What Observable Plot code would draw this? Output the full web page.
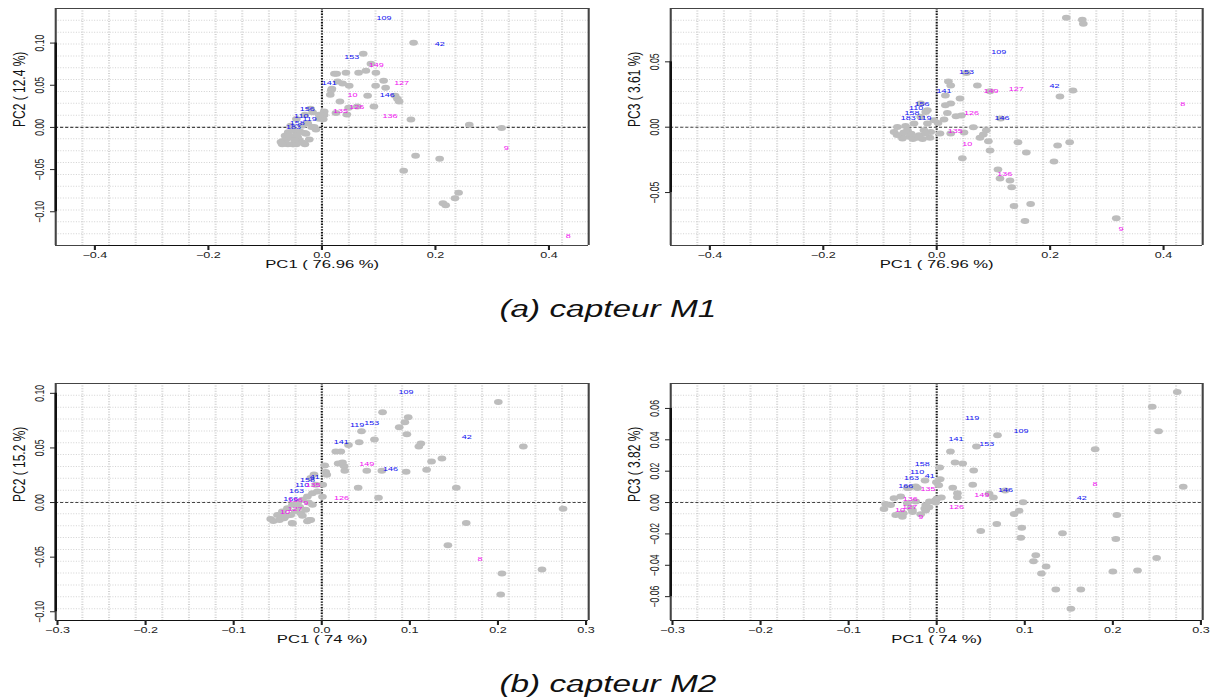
<!DOCTYPE html>
<html><head><meta charset="utf-8">
<script src="https://cdn.jsdelivr.net/npm/d3@7"></script>
<script src="https://cdn.jsdelivr.net/npm/@observablehq/plot@0.6"></script>
<style>
html,body{margin:0;padding:0;background:#fff}
#wrap{position:relative;width:1217px;height:699px;overflow:hidden;background:#fff}
.panel{position:absolute;transform-origin:0 0}
.cap{position:absolute;left:0;width:1217px;text-align:center;transform:scaleX(1.45);transform-origin:610px 0;font-family:"Liberation Sans",Arial,sans-serif;font-style:italic;font-size:23px;color:#111;line-height:26px}
</style></head>
<body><div id="wrap">
<div class="cap" style="top:296px">(a) capteur M1</div>
<div class="cap" style="top:671px">(b) capteur M2</div>
</div>
<script>
// ---------- sensor M1 : PC1 vs PC2 (unlabelled individuals) ----------
const m1_pc12_x = [0.1615,0.0728,0.0863,0.0220,0.0260,0.0423,0.0646,0.0775,0.0951,0.0276,0.0364,0.0481,0.1087,0.0946,0.1122,0.0176,0.0165,0.0147,0.0805,0.1290,0.1330,0.1360,0.0317,0.0623,0.0916,0.0470,0.0247,0.0440,0.0040,0.0040,0.0023,0.1568,0.2596,0.3166,0.1650,0.2074,0.1440,0.2408,0.2344,0.2132,0.2180,
 -0.0182,-0.0106,-0.0300,-0.0223,-0.0300,-0.0500,-0.0690,-0.0516,-0.0428,-0.0280,-0.0594,-0.0136,-0.0164,-0.0048,-0.0722,-0.0630,-0.0550,-0.0450,-0.0400,-0.0350,-0.0600,-0.0650,-0.0450,-0.0380,-0.0500,-0.0550,-0.0350,-0.0250,-0.0300,-0.0200,-0.0450,-0.0650,-0.0700,-0.0580,-0.0480,-0.0050];
const m1_pc12_y = [0.1003,0.0873,0.0754,0.0636,0.0636,0.0648,0.0648,0.0672,0.0648,0.0545,0.0521,0.0494,0.0553,0.0494,0.0470,0.0458,0.0440,0.0387,0.0375,0.0375,0.0340,0.0308,0.0308,0.0249,0.0249,0.0233,0.0170,0.0154,0.0190,0.0146,0.0098,0.0095,0.0032,-0.0008,-0.0336,-0.0371,-0.0513,-0.0774,-0.0841,-0.0900,-0.0924,
 0.0004,-0.0024,-0.0067,-0.0142,-0.0200,-0.0200,-0.0162,-0.0201,-0.0115,-0.0075,-0.0056,0.0004,0.0181,0.0103,-0.0174,-0.0140,-0.0120,-0.0080,-0.0150,-0.0180,-0.0200,-0.0190,-0.0200,-0.0050,-0.0030,0.0020,0.0020,0.0050,0.0150,0.0220,0.0100,-0.0100,-0.0200,-0.0100,-0.0150,0.0150];

// ---------- sensor M1 : PC1 vs PC3 ----------
const m1_pc13_x = [0.2285,0.2567,0.2585,0.0523,0.0206,0.0247,0.0717,0.0940,0.2402,0.2173,0.0153,0.0411,0.0247,0.0153,0.0188,0.0340,0.0435,0.0129,0.0023,0.1128,0.0646,0.0875,0.0822,0.0763,0.0481,0.0247,0.0058,0.0911,0.1433,0.2132,0.2344,0.0940,0.1580,0.0452,0.2068,0.1080,0.1116,0.1292,0.1322,0.1656,0.1363,0.1557,0.3166,
 -0.0752,-0.0693,-0.0634,-0.0516,-0.0400,-0.0282,-0.0282,-0.0164,-0.0224,-0.0106,-0.0164,-0.0048,-0.0312,-0.0488,-0.0604,-0.0194,-0.0450,-0.0550,-0.0350,-0.0250,-0.0700,-0.0580,-0.0420,-0.0120,-0.0310,-0.0194];
const m1_pc13_y = [0.0837,0.0822,0.0792,0.0415,0.0349,0.0318,0.0318,0.0275,0.0280,0.0234,0.0242,0.0219,0.0181,0.0168,0.0109,0.0084,0.0089,0.0059,0.0033,0.0066,0.0000,-0.0023,-0.0056,-0.0081,-0.0041,-0.0048,-0.0048,-0.0107,-0.0115,-0.0140,-0.0115,-0.0178,-0.0193,-0.0237,-0.0262,-0.0323,-0.0392,-0.0407,-0.0460,-0.0588,-0.0603,-0.0718,-0.0697,
 -0.0036,0.0002,-0.0061,-0.0023,0.0028,0.0079,0.0181,0.0130,-0.0023,-0.0036,0.0028,0.0053,-0.0061,-0.0074,-0.0086,0.0117,-0.0050,0.0010,-0.0080,-0.0090,-0.0060,-0.0040,-0.0090,-0.0080,-0.0074,-0.0048];

// ---------- sensor M1 : labelled individuals ----------
const m1_lab_name  = ["109","42","153","149","127","141","10","146","135","126","136","9","8","156","110","119","158","183"];
const m1_lab_group = ["b","b","b","m","m","b","m","b","m","m","m","m","m","b","b","b","b","b"];
const m1_lab_pc1   = [0.1095,0.2075,0.0526,0.0958,0.1404,0.0129,0.0540,0.1150,0.0326,0.0614,0.1200,0.3248,0.4340,-0.0258,-0.0364,-0.0218,-0.0435,-0.0503];
const m1_lab_pc2   = [0.1295,0.0987,0.0829,0.0735,0.0525,0.0525,0.0390,0.0379,0.0190,0.0237,0.0130,-0.0240,-0.1288,0.0221,0.0130,0.0095,0.0056,0.0000];
const m1_lab_pc3   = [0.0573,0.0313,0.0420,0.0277,0.0290,0.0277,-0.0130,0.0069,-0.0031,0.0109,-0.0356,-0.0779,0.0178,0.0178,0.0145,0.0069,0.0105,0.0069];

// ---------- sensor M2 : PC1 vs PC2 ----------
const m2_pc12_x = [0.2004,0.0690,0.0981,0.0943,0.0879,0.0451,0.0966,0.0598,0.0424,0.0303,0.1125,0.1102,0.2288,0.0159,0.0216,0.1364,0.1246,0.0186,0.0235,0.0254,0.0261,0.0034,0.0045,0.0057,0.0511,0.0682,0.0958,0.1190,0.0413,0.1527,0.0644,0.0011,0.0008,0.2739,0.1640,0.1432,0.2045,0.2500,0.2031,
 -0.0580,-0.0503,-0.0447,-0.0390,-0.0333,-0.0276,-0.0219,-0.0163,-0.0106,-0.0068,-0.0088,-0.0125,-0.0333,-0.0144,-0.0428,-0.0352,-0.0239,-0.0182,-0.0106,-0.0163,-0.0125,-0.0337,-0.0220,-0.0550,-0.0480,-0.0400,-0.0300,-0.0250,-0.0150,-0.0050,-0.0450];
const m2_pc12_y = [0.0920,0.0827,0.0781,0.0735,0.0689,0.0652,0.0625,0.0578,0.0551,0.0526,0.0541,0.0514,0.0514,0.0468,0.0468,0.0403,0.0375,0.0357,0.0366,0.0332,0.0292,0.0339,0.0280,0.0255,0.0292,0.0292,0.0283,0.0301,0.0135,0.0135,0.0043,0.0163,0.0053,-0.0058,-0.0187,-0.0390,-0.0649,-0.0612,-0.0842,
 -0.0150,-0.0113,-0.0083,-0.0053,-0.0021,-0.0006,0.0025,0.0055,0.0086,0.0163,0.0256,0.0224,-0.0191,-0.0160,-0.0145,-0.0113,-0.0099,-0.0067,-0.0021,-0.0172,-0.0160,-0.0187,-0.0120,-0.0170,-0.0160,-0.0120,-0.0080,-0.0040,0.0000,0.0100,-0.0130];

// ---------- sensor M2 : PC1 vs PC3 ----------
const m2_pc13_x = [0.2731,0.2447,0.2519,0.0690,0.0451,0.0156,0.1799,0.0208,0.0295,0.0034,0.0420,-0.0133,0.0038,-0.0004,0.0409,0.0182,0.0235,0.0235,0.2799,0.0595,0.0644,0.0777,0.0981,0.0053,-0.0015,-0.0083,0.0936,0.0879,0.2045,0.0682,0.0966,0.0500,0.1428,0.0955,0.2034,0.1125,0.1099,0.2497,0.1242,0.1189,0.2000,0.2280,0.1352,0.1636,0.1523,
 -0.0379,-0.0276,-0.0136,-0.0125,-0.0182,-0.0239,-0.0333,-0.0599,-0.0523,-0.0485,-0.0409,-0.0390,-0.0295,-0.0333,-0.0239,-0.0219,-0.0315,-0.0580,-0.0466,-0.0390,-0.0275,-0.0125,-0.0087,-0.0011,0.0004,0.0023];
const m2_pc13_y = [0.0705,0.0611,0.0455,0.0429,0.0358,0.0326,0.0339,0.0255,0.0249,0.0223,0.0204,0.0141,0.0148,0.0129,0.0114,0.0094,0.0060,0.0034,0.0101,0.0056,0.0032,0.0077,0.0002,0.0032,0.0015,0.0006,-0.0053,-0.0073,-0.0079,-0.0137,-0.0161,-0.0182,-0.0195,-0.0225,-0.0232,-0.0336,-0.0375,-0.0354,-0.0407,-0.0452,-0.0439,-0.0433,-0.0555,-0.0555,-0.0677,
 -0.0069,-0.0047,-0.0038,-0.0015,-0.0075,0.0103,0.0092,-0.0041,-0.0015,0.0028,0.0039,-0.0069,-0.0037,-0.0005,0.0006,0.0092,0.0092,-0.0010,-0.0080,-0.0090,-0.0060,-0.0050,-0.0030,0.0000,0.0025,0.0110];

// ---------- sensor M2 : labelled individuals ----------
const m2_lab_name  = ["109","119","153","42","141","149","146","126","8","41","158","110","135","163","166","136","9","10","127"];
const m2_lab_group = ["b","b","b","b","b","m","b","m","m","b","b","b","m","b","b","m","m","m","m"];
const m2_lab_pc1   = [0.0957,0.0402,0.0568,0.1646,0.0220,0.0510,0.0780,0.0225,0.1797,-0.0080,-0.0163,-0.0223,-0.0100,-0.0286,-0.0352,-0.0300,-0.0182,-0.0418,-0.0305];
const m2_lab_pc2   = [0.1008,0.0713,0.0729,0.0600,0.0553,0.0351,0.0304,0.0040,-0.0514,0.0237,0.0209,0.0160,0.0160,0.0104,0.0030,0.0021,-0.0006,-0.0083,-0.0058];
const m2_lab_pc3   = [0.0457,0.0540,0.0375,0.0028,0.0407,0.0051,0.0079,-0.0026,0.0118,0.0169,0.0244,0.0195,0.0086,0.0154,0.0103,0.0021,-0.0094,-0.0047,-0.0030];

// ---------- axes ----------
const ticks_m1_pc1 = [-0.4,-0.2,0,0.2,0.4];
const ticks_m1_pc2 = [-0.10,-0.05,0,0.05,0.10];
const ticks_m1_pc3 = [-0.05,0,0.05];
const ticks_m2_pc1 = [-0.3,-0.2,-0.1,0,0.1,0.2,0.3];
const ticks_m2_pc2 = [-0.10,-0.05,0,0.05,0.10];
const ticks_m2_pc3 = [-0.06,-0.04,-0.02,0,0.02,0.04,0.06];
const titles = {
  m1x: "PC1 ( 76.96 %)", m1y2: "PC2 ( 12.4 %)", m1y3: "PC3 ( 3.61 %)",
  m2x: "PC1 ( 74 %)",    m2y2: "PC2 ( 15.2 %)", m2y3: "PC3 ( 3.82 %)"
};
const groupColor = {b: "#1010f0", m: "#f010f0"};

// the original figure is stretched horizontally; reproduce it with a horizontal scale
const S = 1.45;
const FONT = "Liberation Sans, Arial, Helvetica, sans-serif";

function zipPts(xs, ys){ return xs.map((x,i)=>({x, y: ys[i]})); }
function zipLabs(names, groups, xs, ys){ return names.map((n,i)=>({n, g: groups[i], x: xs[i], y: ys[i]})); }

function panel({left, top, width, frameL, frameR, pts, labs, xdom, ydom, xticks, yticks, xfmt, yfmt, xtitle, ytitle}){
  const H = 280;
  const mL = (frameL - left)/S, mR = (left + width - frameR)/S, mT = 8, mB = 35;
  const gx = d3.range(1,20).map(k => xdom[0] + k*(xdom[1]-xdom[0])/20);
  const gy = d3.range(1,20).map(k => ydom[0] + k*(ydom[1]-ydom[0])/20);
  const fx = d3.format(xfmt), fy = d3.format(yfmt);
  const svg = Plot.plot({
    width: width/S, height: H,
    marginLeft: mL, marginRight: mR, marginTop: mT, marginBottom: mB,
    style: {fontFamily: FONT, background: "transparent", overflow: "visible"},
    x: {domain: xdom, label: null},
    y: {domain: ydom, label: null},
    marks: [
      Plot.ruleX(gx, {stroke: "#d2d2d2", strokeDasharray: "1,1.6", strokeWidth: S}),
      Plot.ruleY(gy, {stroke: "#d2d2d2", strokeDasharray: "0.7,1.1", strokeWidth: 1}),
      Plot.ruleX([0], {stroke: "#111", strokeDasharray: "1.4,1.4", strokeWidth: S}),
      Plot.ruleY([0], {stroke: "#444", strokeDasharray: "2.1,1.4", strokeWidth: 1.1}),
      Plot.dot(pts, {x: "x", y: "y", r: 3.0, fill: "#bdbdbd", stroke: "none"}),
      Plot.text(labs, {x: "x", y: "y", text: "n", fill: d => groupColor[d.g], fontSize: 6.2,
        fontWeight: d => (d.n === "183" || d.n === "166") ? "bold" : "normal"}),
      Plot.ruleX(xdom, {stroke: "#444", strokeWidth: S}),
      Plot.ruleY(ydom, {stroke: "#444", strokeWidth: 1}),
      Plot.ruleY([ydom[0]], {x1: xticks[0], x2: xticks[xticks.length-1], stroke: "#111", strokeWidth: 1.2}),
      Plot.ruleX([xdom[0]], {y1: yticks[0], y2: yticks[yticks.length-1], stroke: "#111", strokeWidth: S*1.2}),
      Plot.axisX({ticks: xticks, tickFormat: d => fx(d), tickSize: 5, tickPadding: 1.5, fontSize: 8.7,
        label: null, stroke: "#222", strokeWidth: S, fill: "#222"}),
      Plot.axisY({ticks: yticks, tickFormat: () => "", tickSize: 5/S, label: null, stroke: "#222"}),
      Plot.text(yticks, {y: d => d, text: d => fy(d), frameAnchor: "left", dx: -11.5/S, rotate: -90,
        textAnchor: "middle", lineAnchor: "bottom", fontSize: 8.6, fill: "#222"}),
      Plot.text([xtitle], {text: d => d, frameAnchor: "bottom", dy: 23, fontSize: 11.5, fill: "#111"}),
      Plot.text([ytitle], {text: d => d, frameAnchor: "left", dx: -36/S, rotate: -90, fontSize: 12, fill: "#111"})
    ]
  });
  svg.classList.add("panel");
  svg.style.left = left + "px";
  svg.style.top = top + "px";
  svg.style.maxWidth = "none";
  svg.style.transform = `scaleX(${S})`;
  document.getElementById("wrap").appendChild(svg);
}

panel({left: 0, top: 0, width: 600, frameL: 55, frameR: 588,
  pts: zipPts(m1_pc12_x, m1_pc12_y), labs: zipLabs(m1_lab_name, m1_lab_group, m1_lab_pc1, m1_lab_pc2),
  xdom: [-0.469, 0.470], ydom: [-0.140, 0.141], xticks: ticks_m1_pc1, yticks: ticks_m1_pc2, xfmt: ".1f", yfmt: ".2f",
  xtitle: titles.m1x, ytitle: titles.m1y2});
panel({left: 610, top: 0, width: 607, frameL: 670, frameR: 1202,
  pts: zipPts(m1_pc13_x, m1_pc13_y), labs: zipLabs(m1_lab_name, m1_lab_group, m1_lab_pc1, m1_lab_pc3),
  xdom: [-0.469, 0.469], ydom: [-0.0905, 0.0908], xticks: ticks_m1_pc1, yticks: ticks_m1_pc3, xfmt: ".1f", yfmt: ".2f",
  xtitle: titles.m1x, ytitle: titles.m1y3});
panel({left: 0, top: 375, width: 600, frameL: 55, frameR: 588,
  pts: zipPts(m2_pc12_x, m2_pc12_y), labs: zipLabs(m2_lab_name, m2_lab_group, m2_lab_pc1, m2_lab_pc2),
  xdom: [-0.302, 0.303], ydom: [-0.108, 0.109], xticks: ticks_m2_pc1, yticks: ticks_m2_pc2, xfmt: ".1f", yfmt: ".2f",
  xtitle: titles.m2x, ytitle: titles.m2y2});
panel({left: 610, top: 375, width: 607, frameL: 670, frameR: 1202,
  pts: zipPts(m2_pc13_x, m2_pc13_y), labs: zipLabs(m2_lab_name, m2_lab_group, m2_lab_pc1, m2_lab_pc3),
  xdom: [-0.302, 0.302], ydom: [-0.0752, 0.0759], xticks: ticks_m2_pc1, yticks: ticks_m2_pc3, xfmt: ".1f", yfmt: ".2f",
  xtitle: titles.m2x, ytitle: titles.m2y3});
</script>
</body></html>
